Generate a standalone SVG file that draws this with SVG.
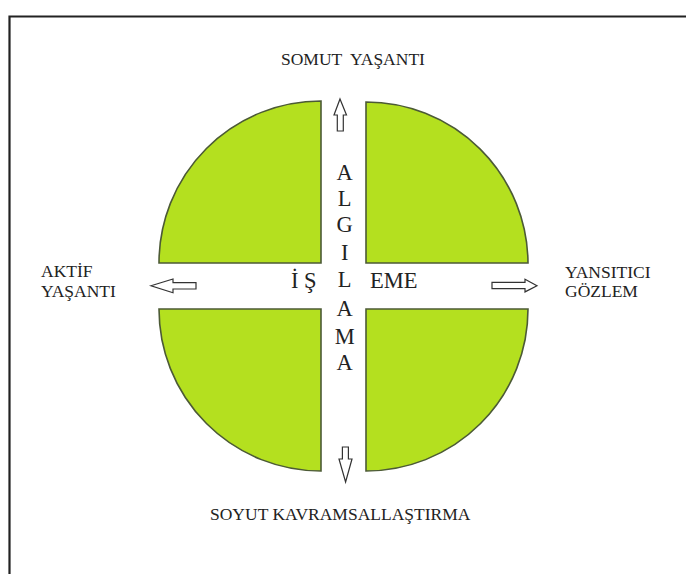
<svg xmlns="http://www.w3.org/2000/svg" width="686" height="574" viewBox="0 0 686 574">
<style>
.q{fill:#b4e01f;stroke:#4c5a36;stroke-width:1.6;}
.ar{fill:#fff;stroke:#333;stroke-width:1.2;stroke-linejoin:miter;}
.lb{font-family:"Liberation Serif","Times New Roman",serif;font-size:17.5px;fill:#222;}
.big{font-family:"Liberation Serif","Times New Roman",serif;font-size:22.5px;fill:#222;}
</style>
<rect x="0" y="0" width="686" height="574" fill="#fff"/>
<path d="M9.5 574 V16.5 H686" fill="none" stroke="#222" stroke-width="2.2"/>
<g id="quadrant-tl"><path class="q" d="M321 263 H159 A162 162 0 0 1 321 101 Z"/></g>
<g id="quadrant-tr"><path class="q" d="M366 263 V102 A162 162 0 0 1 528 263 Z"/></g>
<g id="quadrant-bl"><path class="q" d="M321 309 H159 A162 162 0 0 0 321 471 Z"/></g>
<g id="quadrant-br"><path class="q" d="M366 309 V471 A162 162 0 0 0 528 309 Z"/></g>
<g id="connectors">
<path class="ar" d="M340 99 L346.5 115 H343.3 V131 H337.3 V115 H334 Z"/>
<path class="ar" d="M345.6 482 L352 459 H348.4 V447 H342.4 V459 H339 Z"/>
<path class="ar" d="M151 285.7 L173 279 V282.7 H196 V289 H173 V292.7 Z"/>
<path class="ar" d="M537 285.7 L525 279.3 V282.4 H492 V288.6 H525 V291.9 Z"/>
</g>
<g id="label-somut"><text class="lb" x="281" y="65" xml:space="preserve">SOMUT  YAŞANTI</text></g>
<g id="label-soyut"><text class="lb" x="210" y="520">SOYUT KAVRAMSALLAŞTIRMA</text></g>
<g id="label-aktif"><text class="lb" x="41" y="277">AKTİF</text><text class="lb" x="41" y="296.5">YAŞANTI</text></g>
<g id="label-yansitici"><text class="lb" x="565" y="277.5">YANSITICI</text><text class="lb" x="565" y="297">GÖZLEM</text></g>
<g id="label-isleme"><text class="big" x="291 304" y="287.5">İŞ</text><text class="big" x="370" y="287.5">EME</text></g>
<g id="label-algilama">
<text class="big" text-anchor="middle" x="344.7" y="179.5">A</text>
<text class="big" text-anchor="middle" x="344.7" y="205.5">L</text>
<text class="big" text-anchor="middle" x="344.7" y="232">G</text>
<text class="big" text-anchor="middle" x="344.7" y="260">I</text>
<text class="big" text-anchor="middle" x="344.7" y="287">L</text>
<text class="big" text-anchor="middle" x="344.7" y="316">A</text>
<text class="big" text-anchor="middle" x="344.7" y="343.5">M</text>
<text class="big" text-anchor="middle" x="344.7" y="370">A</text>
</g>
</svg>
